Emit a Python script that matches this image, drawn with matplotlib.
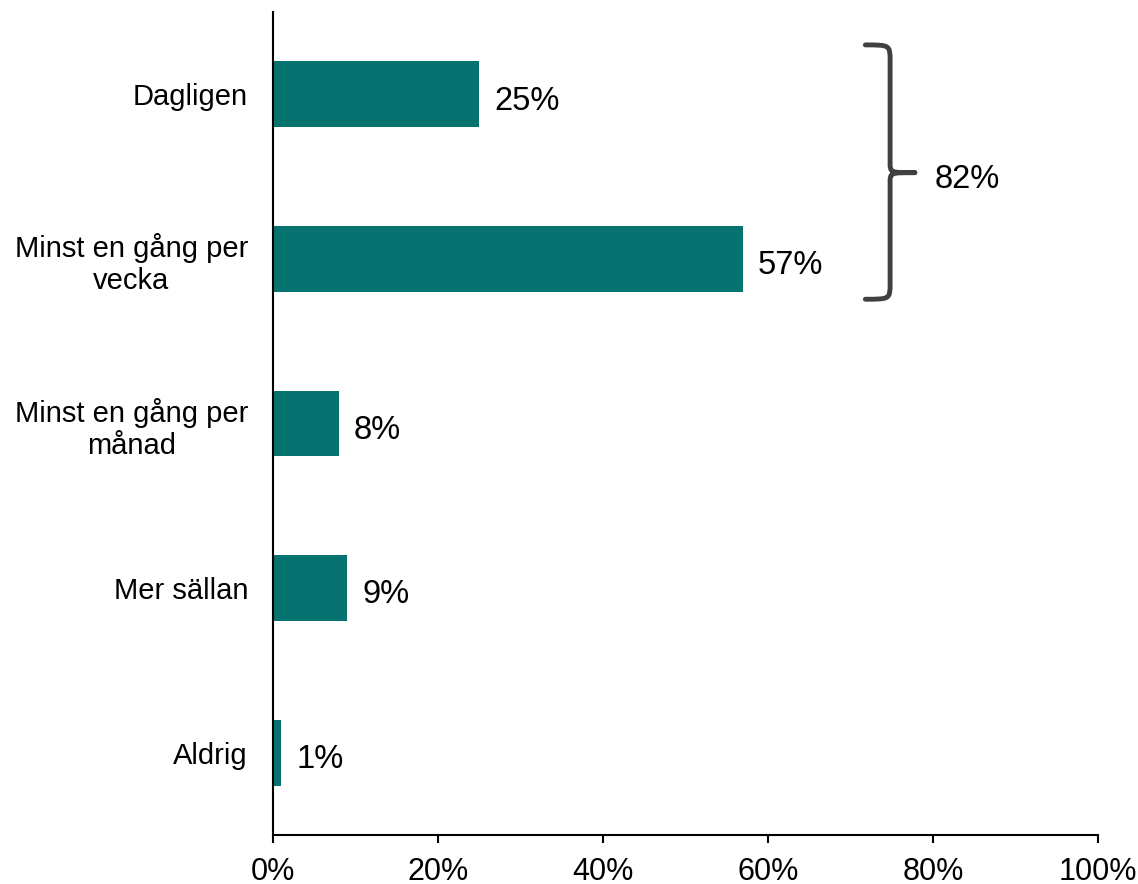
import matplotlib
matplotlib.use("Agg")
import matplotlib.pyplot as plt
from matplotlib.path import Path
from matplotlib.patches import PathPatch

categories = ["Dagligen", "Minst en gång per\nvecka", "Minst en gång per\nmånad", "Mer sällan", "Aldrig"]
values = [25, 57, 8, 9, 1]
value_labels = ["25%", "57%", "8%", "9%", "1%"]
xticks = [0, 20, 40, 60, 80, 100]
xtick_labels = ["0%", "20%", "40%", "60%", "80%", "100%"]
bracket_label = "82%"

plt.rcParams['font.family'] = ['Liberation Sans', 'DejaVu Sans']

fig = plt.figure(figsize=(11.38, 8.84), dpi=100)
ax = fig.add_axes([273/1138, 1-835/884, (1098-273)/1138, (835-12)/884])

color = "#077370"
ypos = list(range(len(categories)))
ax.barh(ypos, values, height=0.4, color=color)
ax.set_ylim(4.5, -0.5)
ax.set_xlim(0, 100)

for y, v, lab in zip(ypos, values, value_labels):
    ax.text(v + 1.8, y + 0.02, lab, va='center_baseline', ha='left', fontsize=23.5)

ax.set_yticks(ypos)
ax.set_yticklabels(categories, fontsize=21, multialignment='center')
ax.tick_params(axis='y', length=0, pad=18)
ax.set_xticks(xticks)
ax.set_xticklabels(xtick_labels, fontsize=22)
ax.tick_params(axis='x', direction='out', length=6, width=1.5, pad=10)

for s in ['top', 'right']:
    ax.spines[s].set_visible(False)
for s in ['left', 'bottom']:
    ax.spines[s].set_linewidth(1.5)
    ax.spines[s].set_color('black')

# brace
x0, x1, xt = 71.8, 74.8, 77.8
yt, ym, yb = -0.3, 0.476, 1.245
verts = [
    (x0, yt), (x1, yt), (x1, yt), (x1, yt + 0.1),
    (x1, ym - 0.06),
    (x1, ym), (x1, ym), (xt, ym),
    (x1, ym), (x1, ym), (x1, ym + 0.06),
    (x1, yb - 0.1),
    (x1, yb), (x1, yb), (x0, yb),
]
codes = [Path.MOVETO, Path.CURVE4, Path.CURVE4, Path.CURVE4,
         Path.LINETO,
         Path.CURVE4, Path.CURVE4, Path.CURVE4,
         Path.CURVE4, Path.CURVE4, Path.CURVE4,
         Path.LINETO,
         Path.CURVE4, Path.CURVE4, Path.CURVE4]
brace = PathPatch(Path(verts, codes), facecolor='none', edgecolor='#404040',
                  linewidth=3.5, capstyle='round', joinstyle='round', clip_on=False)
ax.add_patch(brace)
ax.text(80.2, ym + 0.02, bracket_label, va='center_baseline', ha='left', fontsize=23.5)

fig.savefig("out.png", dpi=100)
